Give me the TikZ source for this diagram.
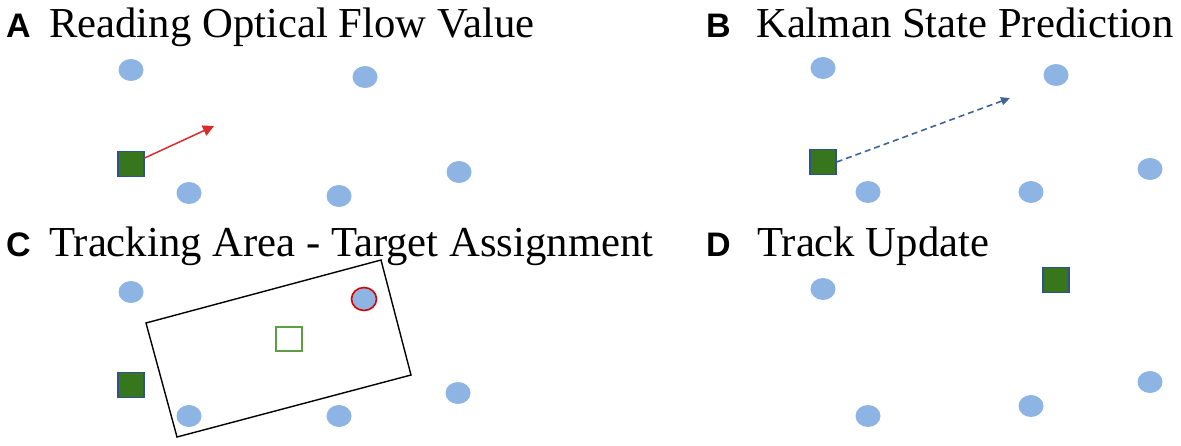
\documentclass[tikz,border=0pt]{standalone}
\usepackage{fontspec}
\setmainfont{Liberation Serif}
\newfontfamily\labfont{Liberation Sans}
\usetikzlibrary{arrows.meta,shapes.geometric}
\definecolor{dotblue}{HTML}{8EB4E3}
\definecolor{sqgreen}{HTML}{38761D}
\definecolor{sqedge}{HTML}{2F528F}
\definecolor{flowred}{HTML}{D92B2B}
\definecolor{predblue}{HTML}{3E6496}
\definecolor{opengreen}{HTML}{5E9E45}
\begin{document}
\begin{tikzpicture}[x=1pt,y=-1pt,
  dot/.style={ellipse, fill=dotblue, minimum width=25pt, minimum height=22pt, inner sep=0pt},
  hitdot/.style={ellipse, fill=dotblue, draw=red!85!black, line width=1.6pt, minimum width=25pt, minimum height=23pt, inner sep=0pt},
  track/.style={rectangle, fill=sqgreen, draw=sqedge, line width=1.3pt, minimum width=26pt, minimum height=25pt, inner sep=0pt},
  ghost/.style={rectangle, draw=opengreen, line width=1.3pt, minimum width=26pt, minimum height=24pt, inner sep=0pt},
  title/.style={anchor=base west, inner sep=0pt, font=\fontsize{42.7}{48}\selectfont},
  panel/.style={anchor=base west, inner sep=0pt, font=\labfont\bfseries\fontsize{34}{38}\selectfont},
  flow/.style={draw=flowred, line width=1.5pt, -{Triangle[length=11pt,width=11pt]}},
  pred/.style={draw=predblue, line width=1.6pt, dash pattern=on 6pt off 4pt, -{Triangle[length=9pt,width=8pt]}},
  area/.style={draw=black, line width=1.4pt}
]
\useasboundingbox (0,0) rectangle (1181,445);

% Panel A
\node[panel] (la) at (6,37) {A};
\node[title] (ta) at (49,37) {Reading Optical Flow Value};
\node[dot] (a1) at (131,70) {};
\node[dot] (a2) at (365,77) {};
\node[dot] (a3) at (189,193) {};
\node[dot] (a4) at (339,196) {};
\node[dot] (a5) at (459,172) {};
\node[track] (as) at (131,164) {};
\coordinate (af) at (214,126);
\draw[flow] (as.east) ++(0,-6) -- (af);

% Panel B
\node[panel] (lb) at (706,37) {B};
\node[title] (tb) at (756,37) {Kalman State Prediction};
\node[dot] (b1) at (823,68) {};
\node[dot] (b2) at (1056,75) {};
\node[dot] (b3) at (868,192) {};
\node[dot] (b4) at (1031,192) {};
\node[dot] (b5) at (1150,169) {};
\node[track] (bs) at (823,162) {};
\coordinate (bf) at (1010,98);
\draw[pred] (bs.east) -- (bf);

% Panel C
\node[panel] (lc) at (6,256) {C};
\node[title] (tc) at (49,256) {Tracking Area - Target Assignment};
\coordinate (r1) at (146,323);
\coordinate (r2) at (381,260);
\coordinate (r3) at (411,375);
\coordinate (r4) at (177,437);
\draw[area] (r1) -- (r2) -- (r3) -- (r4) -- cycle;
\node[dot] (c1) at (131,292) {};
\node[dot] (c3) at (189,416) {};
\node[dot] (c4) at (339,416) {};
\node[dot] (c5) at (458,393) {};
\node[hitdot] (c2) at (364,299) {};
\node[track] (cs) at (131,385) {};
\node[ghost] (cg) at (289,339) {};

% Panel D
\node[panel] (ld) at (706,256) {D};
\node[title] (td) at (757,256) {Track Update};
\node[dot] (d1) at (823,289) {};
\node[dot] (d3) at (868,416) {};
\node[dot] (d4) at (1031,406) {};
\node[dot] (d5) at (1150,382) {};
\node[track] (ds) at (1056,280) {};
\end{tikzpicture}
\end{document}
